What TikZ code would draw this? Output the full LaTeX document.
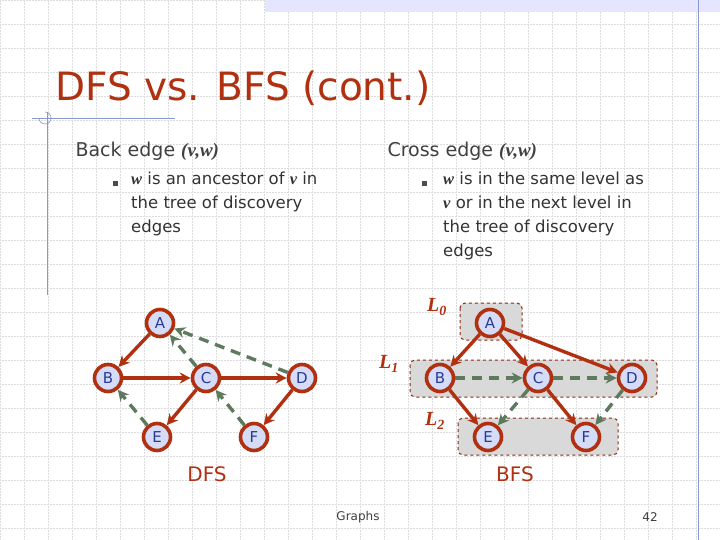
\documentclass[tikz,border=0pt]{standalone}
\usepackage{fontspec}
\setmainfont{DejaVu Sans}
\newfontfamily\serifit{Liberation Serif}
\usetikzlibrary{arrows.meta}
\definecolor{tred}{HTML}{B0300F}
\definecolor{nfill}{HTML}{D4DCF8}
\definecolor{ntext}{HTML}{2B3990}
\definecolor{dgreen}{HTML}{5E7A5E}
\definecolor{gridc}{HTML}{DCDCDC}
\definecolor{lblue}{HTML}{8899CC}
\tikzset{
 vert/.style={circle,draw=tred,line width=3.6pt,fill=nfill,text=ntext,minimum size=27pt,inner sep=0pt,font=\fontsize{15}{15}\selectfont},
 tree/.style={draw=tred,line width=3.4pt,-{Stealth[length=11pt,width=11pt]}},
 nontree/.style={draw=dgreen,line width=3.4pt,dash pattern=on 10pt off 7pt,-{Stealth[length=11pt,width=11pt]}},
 level/.style={draw=tred!80!black,dashed,fill=black!15,rounded corners=5pt,line width=1pt},
 body/.style={font=\fontsize{16.5}{24}\selectfont,text=black!80,anchor=north west,align=left,inner sep=0pt},
 lab/.style={font=\serifit\bfseries\itshape\fontsize{20}{20}\selectfont,text=tred}
}
\begin{document}
\begin{tikzpicture}[x=1pt,y=-1pt]
\useasboundingbox (0,0) rectangle (720,540);
\fill[white] (0,0) rectangle (720,540);
\foreach \g in {0,24,...,720} \draw[gridc,densely dotted,line width=0.5pt] (\g,0) -- (\g,540);
\foreach \g in {0,24,...,540} \draw[gridc,densely dotted,line width=0.5pt] (0,\g) -- (720,\g);
\fill[blue!10] (265,0) rectangle (720,12);
\draw[lblue,line width=0.8pt] (698,0) -- (698,540);
\draw[lblue,line width=0.8pt] (32,118) -- (175,118);
\draw[lblue,line width=0.8pt] (47,112) -- (47,295);
\draw[lblue,line width=0.6pt] (39,118) arc[start angle=180,end angle=450,radius=6pt];
\node[anchor=west,text=tred,font=\fontsize{39}{39}\selectfont] (title) at (52,88) {DFS vs. BFS (cont.)};
\node[anchor=west,text=black!75,font=\fontsize{19}{19}\selectfont] (bk) at (72,151) {Back edge {\serifit\bfseries\itshape(v,w)}};
\node[anchor=west,text=black!75,font=\fontsize{19}{19}\selectfont] (cr) at (384,151) {Cross edge {\serifit\bfseries\itshape(v,w)}};
\fill[black!70] (113,181) rectangle (118,186);
\fill[black!70] (422,181) rectangle (427,186);
\node[body] (bt) at (131,172) {{\serifit\bfseries\itshape w} is an ancestor of {\serifit\bfseries\itshape v} in\\the tree of discovery\\edges};
\node[body] (ct) at (443,172) {{\serifit\bfseries\itshape w} is in the same level as\\{\serifit\bfseries\itshape v} or in the next level in\\the tree of discovery\\edges};
% DFS
\node[vert] (A) at (160,323) {A};
\node[vert] (B) at (108,378) {B};
\node[vert] (C) at (206,378) {C};
\node[vert] (D) at (302,378) {D};
\node[vert] (E) at (157,437) {E};
\node[vert] (F) at (254,437) {F};
\draw[tree] (A) -- (B);
\draw[tree] (B) -- (C);
\draw[tree] (C) -- (D);
\draw[tree] (C) -- (E);
\draw[tree] (D) -- (F);
\draw[nontree] (C) -- (A);
\draw[nontree] (D) -- (A);
\draw[nontree] (E) -- (B);
\draw[nontree] (F) -- (C);
\node[font=\fontsize{20}{20}\selectfont,text=tred] (dfs) at (207,474) {DFS};
% BFS
\filldraw[level] (460,303) rectangle (522,340);
\filldraw[level] (410,360) rectangle (657,397);
\filldraw[level] (458,418) rectangle (618,455);
\node[lab] (l0) at (437,307) {L\textsubscript{0}};
\node[lab] (l1) at (389,364) {L\textsubscript{1}};
\node[lab] (l2) at (435,421) {L\textsubscript{2}};
\node[vert] (bA) at (490,323) {A};
\node[vert] (bB) at (440,378) {B};
\node[vert] (bC) at (538,378) {C};
\node[vert] (bD) at (632,378) {D};
\node[vert] (bE) at (488,437) {E};
\node[vert] (bF) at (586,437) {F};
\draw[tree] (bA) -- (bB);
\draw[tree] (bA) -- (bC);
\draw[tree] (bA) -- (bD);
\draw[tree] (bB) -- (bE);
\draw[tree] (bC) -- (bF);
\draw[nontree] (bB) -- (bC);
\draw[nontree] (bC) -- (bD);
\draw[nontree] (bC) -- (bE);
\draw[nontree] (bD) -- (bF);
\node[font=\fontsize{20}{20}\selectfont,text=tred] (bfs) at (515,474) {BFS};
\node[font=\fontsize{12}{12}\selectfont,text=black!75] (gr) at (358,517) {Graphs};
\node[font=\fontsize{12}{12}\selectfont,text=black!75] (pg) at (650,517) {42};
\end{tikzpicture}
\end{document}
